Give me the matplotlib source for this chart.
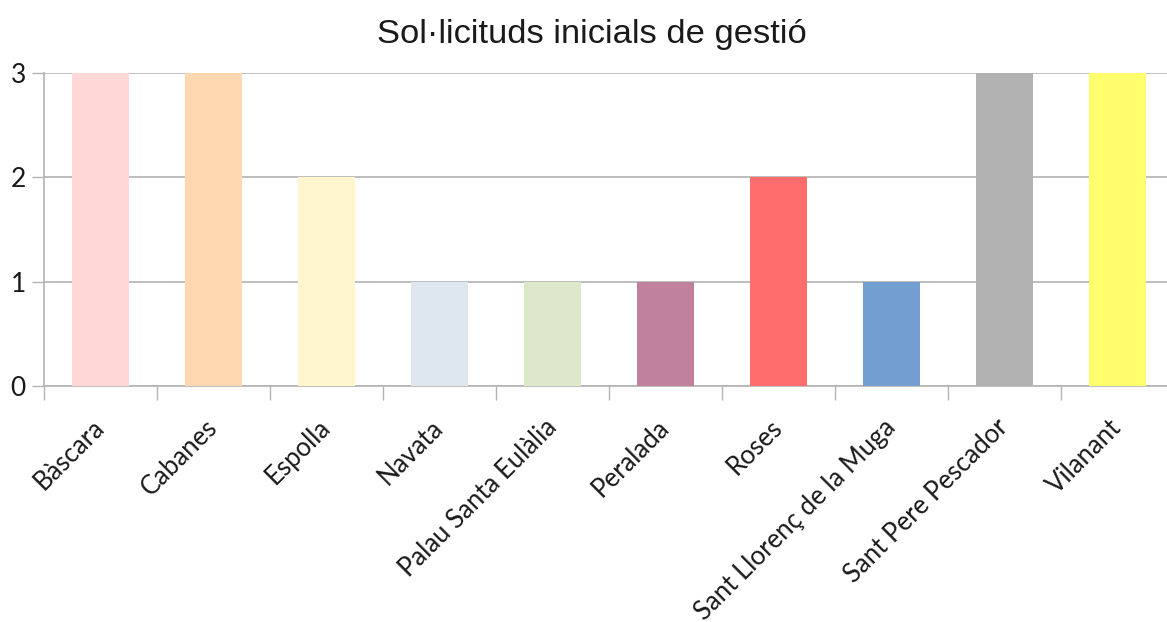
import matplotlib
matplotlib.use("Agg")
import matplotlib.pyplot as plt
import numpy as np

categories = ["Bàscara", "Cabanes", "Espolla", "Navata", "Palau Santa Eulàlia",
              "Peralada", "Roses", "Sant Llorenç de la Muga", "Sant Pere Pescador", "Vilanant"]
values = [3, 3, 2, 1, 1, 1, 2, 1, 3, 3]
colors = ["#ffd7d7", "#ffd8b2", "#fff5ce", "#dee6ef", "#dde8cb",
          "#bf819e", "#ff6d6d", "#729fcf", "#b2b2b2", "#ffff6d"]
yticks = [0, 1, 2, 3]
title = "Sol·licituds inicials de gestió"

W, H = 1167, 622
fig = plt.figure(figsize=(W / 100, H / 100), dpi=100)
left, right, top, bottom = 44, 1167, 73, 386
ax = fig.add_axes([left / W, 1 - bottom / H, (right - left) / W, (bottom - top) / H])

x = np.arange(len(categories))
ax.bar(x, values, width=0.5, color=colors, zorder=3)

ax.set_ylim(0, 3)
step = 113.0
ax.set_xlim(-0.5, -0.5 + (right - left) / step)

grid_c = "#b3b3b3"
ax.set_yticks(yticks)
ax.set_yticklabels([str(v) for v in yticks], fontsize=19, family="Lato", color="#1a1a1a")
ax.yaxis.grid(True, color=grid_c, linewidth=1.2, zorder=0)
ax.tick_params(axis="y", length=9, width=1.0, color=grid_c, pad=4, direction="out")

ax.set_xticks(np.arange(-0.5, len(categories) - 0.5, 1.0))
ax.set_xticklabels([])
ax.tick_params(axis="x", which="major", length=10, width=1.0, color=grid_c, direction="out")
ax.set_xticks(x, minor=True)
ax.set_xticklabels(categories, minor=True, rotation=45, ha="right", va="center",
                   rotation_mode="anchor", fontsize=18.5, family="Lato", color="#1a1a1a")
ax.tick_params(axis="x", which="minor", length=0, pad=27)

for s in ["top", "right"]:
    ax.spines[s].set_visible(False)
for s in ["left", "bottom"]:
    ax.spines[s].set_color(grid_c)
    ax.spines[s].set_linewidth(1.2)

fig.text(592 / W, 1 - 34 / H, title, ha="center", va="center", fontsize=24.8,
         family="Liberation Sans", color="#1a1a1a")

fig.savefig("out.png", dpi=100)
